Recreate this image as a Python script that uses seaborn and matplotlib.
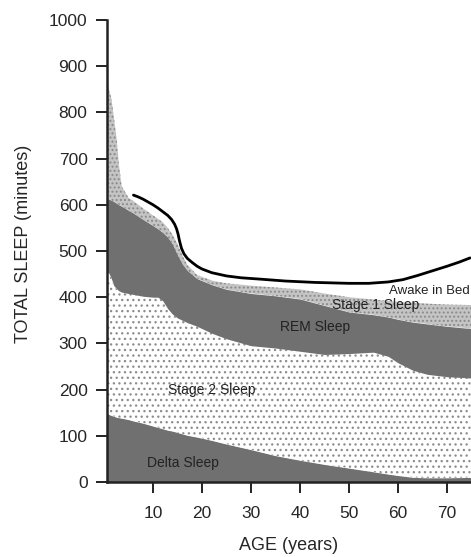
import matplotlib
matplotlib.use("Agg")
import matplotlib.pyplot as plt
import pandas as pd
import seaborn as sns

# Age grid (years) shared by the stacked sleep-stage boundaries
ages = [0.6, 1, 1.5, 2, 2.6, 3, 3.6, 5, 6, 8, 10, 11, 12, 13, 14, 15, 16, 17,
        19, 22, 25, 30, 35, 40, 45, 50, 55, 58, 60, 63, 66, 70, 75]

# Cumulative upper boundary of each stage (minutes)
delta_top = [150, 146, 144, 142, 140, 139, 138, 135, 132, 127, 121, 118, 115,
             112, 110, 107, 104, 101, 97, 90, 82, 70, 57, 47, 38, 30, 22, 17,
             14, 10, 9, 9, 10]
stage2_top = [455, 452, 440, 425, 418, 414, 411, 408, 406, 402, 400, 400, 392,
              375, 363, 355, 350, 345, 337, 322, 310, 295, 290, 283, 276, 278,
              281, 272, 258, 242, 233, 228, 225]
rem_top = [615, 612, 610, 607, 603, 600, 597, 588, 582, 568, 555, 548, 540,
           530, 515, 492, 472, 458, 440, 427, 417, 408, 403, 396, 382, 368,
           362, 357, 352, 346, 342, 337, 332]
stage1_top = [870, 850, 830, 790, 740, 690, 640, 615, 608, 592, 577, 570, 562,
              550, 535, 515, 490, 470, 448, 436, 430, 425, 421, 417, 408, 400,
              395, 392, 390, 388, 386, 384, 383]

# Total time in bed (minutes)
bed_ages = [6, 7, 8, 9, 10, 11, 12, 13, 13.8, 14.4, 14.8, 15.1, 15.4, 15.8,
            16.3, 17, 18, 19, 20, 22, 25, 28, 32, 37, 43, 50, 54, 58, 61, 64,
            67, 70, 72.5, 74.7]
time_in_bed = [621, 617, 612, 606, 600, 593, 585, 577, 568, 558, 548, 537,
               522, 506, 494, 484, 475, 467, 461, 453, 446, 442, 439, 435, 432,
               430, 430, 433, 438, 447, 457, 467, 476, 485]

x_ticks = [10, 20, 30, 40, 50, 60, 70]
y_ticks = [0, 100, 200, 300, 400, 500, 600, 700, 800, 900, 1000]

sns.set_style("ticks")
plt.rcParams["font.family"] = ["Liberation Sans", "DejaVu Sans"]
plt.rcParams["hatch.linewidth"] = 0.9

stages = pd.DataFrame({"age": ages, "delta": delta_top, "stage2": stage2_top,
                       "rem": rem_top, "stage1": stage1_top})
bed = pd.DataFrame({"age": bed_ages, "minutes": time_in_bed})

fig = plt.figure(figsize=(4.71, 5.57), dpi=100)
ax = fig.add_axes([107 / 471, 75 / 557, 364 / 471, 462 / 557])

dark = "#707070"
ax.fill_between(stages["age"], 0, stages["delta"], facecolor=dark,
                linewidth=0)
ax.fill_between(stages["age"], stages["delta"], stages["stage2"],
                facecolor="white", edgecolor="#8c8c8c", hatch="...",
                linewidth=0)
ax.fill_between(stages["age"], stages["stage2"], stages["rem"],
                facecolor=dark, linewidth=0)
ax.fill_between(stages["age"], stages["rem"], stages["stage1"],
                facecolor="#c4c4c4", edgecolor="#8a8a8a", hatch="....",
                linewidth=0)

sns.lineplot(data=bed, x="age", y="minutes", color="black", linewidth=2.0,
             ax=ax)

txt = dict(fontsize=10, color="#222222", ha="center", va="center")
ax.text(74.6, 413, "Awake in Bed", fontsize=9.5, color="#222222",
        ha="right", va="center")
ax.text(55.5, 383, "Stage 1 Sleep", **txt)
ax.text(43, 335, "REM Sleep", **txt)
ax.text(22, 199, "Stage 2 Sleep", **txt)
ax.text(16, 41, "Delta Sleep", **txt)

ax.set_xlim(0.6, 74.9)
ax.set_ylim(0, 1000)
ax.set_xticks(x_ticks)
ax.set_yticks(y_ticks)
ax.tick_params(axis="both", labelsize=12.5, width=1.4, length=8,
               color="#222222")
ax.tick_params(axis="y", pad=6)
ax.tick_params(axis="x", pad=9)
for side in ("top", "right"):
    ax.spines[side].set_visible(False)
for side in ("left", "bottom"):
    ax.spines[side].set_linewidth(1.8)
    ax.spines[side].set_color("#222222")

ax.set_xlabel("AGE (years)", fontsize=13, labelpad=12)
ax.set_ylabel("TOTAL SLEEP (minutes)", fontsize=13)
ax.yaxis.set_label_coords(-0.205, 0.515)

fig.savefig("out.png", dpi=100)
